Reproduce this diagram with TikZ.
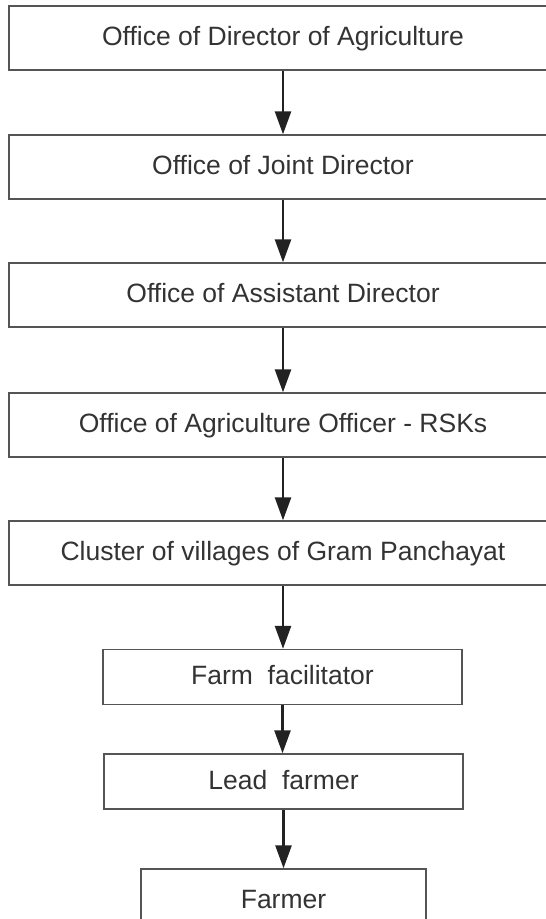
\documentclass[tikz,border=0pt]{standalone}
\usepackage{fontspec}
\newfontfamily\labelfont{Liberation Sans}
\usetikzlibrary{arrows.meta}
\definecolor{boxgray}{HTML}{555555}
\definecolor{inkdark}{HTML}{222222}
\definecolor{textgray}{HTML}{333333}
\begin{document}
\begin{tikzpicture}[x=1pt,y=-1pt,
  basebox/.style={draw=boxgray, line width=1.4pt, inner sep=0pt,
    text height=19pt, text depth=4pt, text=textgray,
    font=\labelfont\fontsize{26.5}{30}\selectfont},
  widebox/.style={basebox, minimum width=548pt, minimum height=64pt},
  midbox/.style={basebox, minimum width=359pt, minimum height=55pt},
  endbox/.style={basebox, minimum width=285pt, minimum height=64pt},
  flow/.style={draw=inkdark, line width=2.6pt,
    -{Triangle[length=23pt,width=16pt]}}]
\useasboundingbox (0,0) rectangle (546,919);
\clip (0,0) rectangle (546,919);

% hierarchy of offices
\node[widebox] (dir)  at (283,38)  {Office of Director of Agriculture};
\node[widebox] (jd)   at (283,167) {Office of Joint Director};
\node[widebox] (ad)   at (283,295) {Office of Assistant Director};
\node[widebox] (ao)   at (283,425) {Office of Agriculture Officer - RSKs};
\node[widebox] (gp)   at (283,553) {Cluster of villages of Gram Panchayat};

% field level
\node[midbox] (ff)    at (282.5,677)   {Farm\ \ facilitator};
\node[midbox] (lf)    at (283.5,781.5) {Lead\ \ farmer};
\node[endbox] (fa)    at (283.5,901)   {Farmer};

% downward links
\draw[flow] (dir) -- (jd);
\draw[flow] (jd)  -- (ad);
\draw[flow] (ad)  -- (ao);
\draw[flow] (ao)  -- (gp);
\draw[flow] (gp.south)  -- (gp.south |- ff.north);
\draw[flow] (ff.south)  -- (ff.south |- lf.north);
\draw[flow] (lf.south)  -- (lf.south |- fa.north);
\end{tikzpicture}
\end{document}
